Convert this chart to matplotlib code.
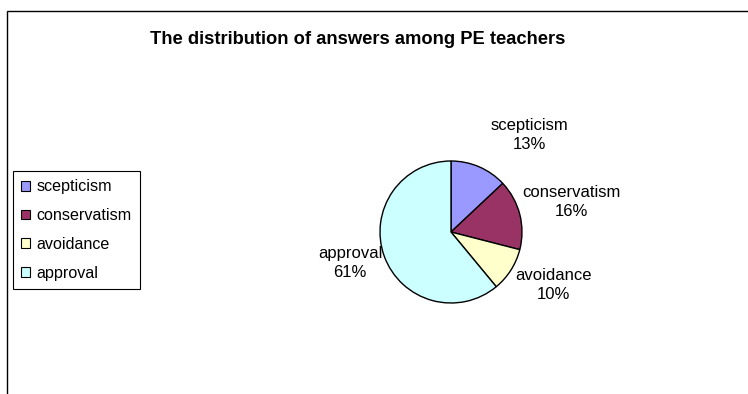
import matplotlib.pyplot as plt
from matplotlib.patches import Patch, Rectangle

plt.rcParams['font.family'] = ['Liberation Sans', 'DejaVu Sans']

categories = ['scepticism', 'conservatism', 'avoidance', 'approval']
shares = [13, 16, 10, 61]
colors = ['#9999ff', '#993366', '#ffffcc', '#ccffff']

# label offsets relative to the pie centre (in radii)
label_pos = [(1.10, 1.37), (1.69, 0.42), (1.44, -0.75), (-1.42, -0.44)]

W, H = 748, 394
fig = plt.figure(figsize=(W / 100, H / 100), dpi=100)

# outer chart frame (runs off the right and bottom edges)
fig.patches.append(Rectangle((7 / W, -0.05), 1.1, 1 - 11 / H + 0.05,
                             transform=fig.transFigure, fill=False,
                             edgecolor='black', linewidth=1.0))

fig.text(358 / W, 1 - 40 / H, 'The distribution of answers among PE teachers',
         ha='center', va='center', fontsize=13.2, fontweight='bold')

cx, cy, r = 451, 232, 71
ax = fig.add_axes([(cx - r) / W, (H - cy - r) / H, 2 * r / W, 2 * r / H])
ax.pie(shares, colors=colors, startangle=90, counterclock=False,
       wedgeprops=dict(edgecolor='black', linewidth=1.0))
ax.set_xlim(-1, 1)
ax.set_ylim(-1, 1)
ax.set_aspect('auto')

for name, val, (lx, ly) in zip(categories, shares, label_pos):
    ax.text(lx, ly, f'{name}\n{val}%', ha='center', va='center',
            fontsize=12, linespacing=1.3, clip_on=False)

handles = [Patch(facecolor=c, edgecolor='black', linewidth=0.8) for c in colors]
leg = fig.legend(handles, categories, loc='center left',
                 bbox_to_anchor=(13 / W, 1 - 230 / H), fontsize=11.6,
                 handlelength=0.55, handleheight=0.55, handletextpad=0.4,
                 labelspacing=0.85, borderpad=0.5, borderaxespad=0,
                 fancybox=False, framealpha=1)
leg.get_frame().set_edgecolor('black')
leg.get_frame().set_linewidth(0.8)

fig.savefig('out.png', dpi=100)
